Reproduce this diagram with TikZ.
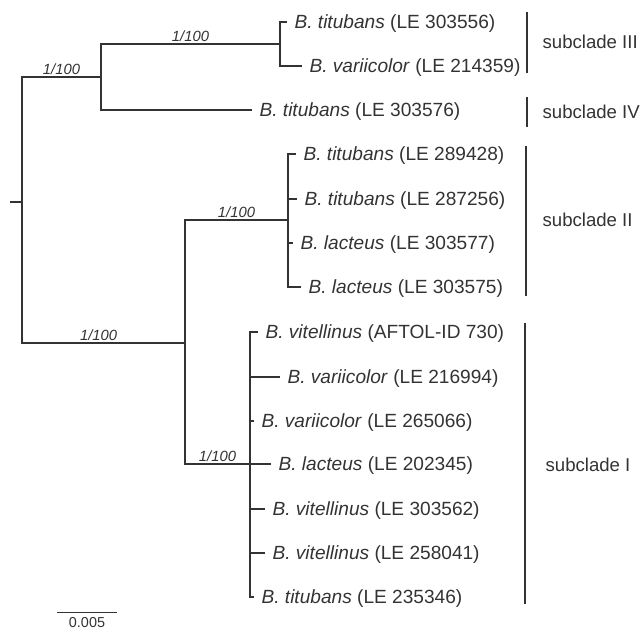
\documentclass[tikz,border=0pt]{standalone}
\usepackage{fontspec}
\setmainfont{Liberation Sans}
\usepackage{tikz}

\begin{document}
\begin{tikzpicture}[x=1pt, y=-1pt, line width=1.2pt, color=black!80,
    taxon/.style={anchor=west, inner xsep=7pt, inner ysep=0pt, text height=13.7pt, text depth=0pt, font=\fontsize{19.1}{21}\selectfont},
    support/.style={above, inner sep=2pt, font=\fontsize{14.8}{16}\selectfont\itshape},
    clade/.style={anchor=west, inner sep=0pt, text height=13.4pt, text depth=0pt, font=\fontsize{18.6}{20}\selectfont}]
      \useasboundingbox (0,0) rectangle (644,630);

      % internal nodes
      \coordinate (base) at (10,202);
      \coordinate (root) at (22,202);
      \coordinate (n1) at (101,77);
      \coordinate (n2) at (280,44);
      \coordinate (n3) at (185,343);
      \coordinate (n4) at (288,220);
      \coordinate (n5) at (250,464);

      % taxa
      \node[taxon] (t1) at (287,22) {\textit{B. titubans} (LE 303556)};
      \node[taxon] (t2) at (302,66) {\textit{B. variicolor} (LE 214359)};
      \node[taxon] (t3) at (252,110) {\textit{B. titubans} (LE 303576)};
      \node[taxon] (t4) at (296,154) {\textit{B. titubans} (LE 289428)};
      \node[taxon] (t5) at (297,199) {\textit{B. titubans} (LE 287256)};
      \node[taxon] (t6) at (293,243) {\textit{B. lacteus} (LE 303577)};
      \node[taxon] (t7) at (301,287) {\textit{B. lacteus} (LE 303575)};
      \node[taxon] (t8) at (258,332) {\textit{B. vitellinus} (AFTOL-ID 730)};
      \node[taxon] (t9) at (280,377) {\textit{B. variicolor} (LE 216994)};
      \node[taxon] (t10) at (254,421) {\textit{B. variicolor} (LE 265066)};
      \node[taxon] (t11) at (271,464) {\textit{B. lacteus} (LE 202345)};
      \node[taxon] (t12) at (265,509) {\textit{B. vitellinus} (LE 303562)};
      \node[taxon] (t13) at (265,553) {\textit{B. vitellinus} (LE 258041)};
      \node[taxon] (t14) at (254,597) {\textit{B. titubans} (LE 235346)};

      % branches
      \draw (base) -- (root);
      \draw (root) |- (n1) node[support, pos=0.75] {1/100};
      \draw (root) |- (n3) node[support, pos=0.735] {1/100};
      \draw (n1) |- (n2) node[support, pos=0.75] {1/100};
      \draw (n1) |- (t3.west);
      \draw (n2) |- (t1.west);
      \draw (n2) |- (t2.west);
      \draw (n3) |- (n4) node[support, pos=0.75] {1/100};
      \draw (n3) |- (n5) node[support, pos=0.75] {1/100};
      \foreach \t in {t4,t5,t6,t7}
        \draw (n4) |- (\t.west);
      \foreach \t in {t8,t9,t10,t11,t12,t13,t14}
        \draw (n5) |- (\t.west);

      % subclades
      \draw (527,12) -- (527,73);
      \node[clade] (c3) at (542,42) {subclade III};
      \draw (527,97) -- (527,127);
      \node[clade] (c4) at (542,112) {subclade IV};
      \draw (526,146) -- (526,296);
      \node[clade] (c2) at (542,220) {subclade II};
      \draw (525,323) -- (525,604);
      \node[clade] (c1) at (545,465) {subclade I};

      % scale bar
      \coordinate (s0) at (57,612);
      \coordinate (s1) at (117,612);
      \draw[line width=1pt] (s0) -- (s1) node[midway, below=3pt, inner sep=2pt, font=\fontsize{14.4}{16}\selectfont] {0.005};
    \end{tikzpicture}
\end{document}
